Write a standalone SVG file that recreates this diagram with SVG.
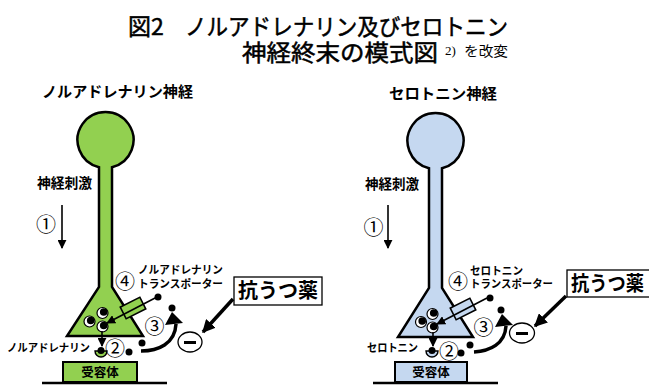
<svg xmlns="http://www.w3.org/2000/svg" width="649" height="389" viewBox="0 0 649 389">
  <defs>
    <style>
      .jp { font-family: "Noto Sans CJK JP", "Liberation Sans", sans-serif; fill: #000; }
      .b { font-weight: bold; }
      .ttl { font-family: "Noto Sans CJK JP", "Liberation Sans", sans-serif; fill: #000; stroke: #000; stroke-width: 0.5; }
      .num { font-family: "Noto Sans CJK JP", "DejaVu Sans", sans-serif; font-size: 20px; fill: #000; text-anchor: middle; dominant-baseline: central; }
      .outline { stroke: #000; stroke-width: 2.5; stroke-linejoin: miter; }
      .nor { fill: #92d050; }
      .ser { fill: #c5d8f0; }
      .thin { stroke: #000; stroke-width: 1.6; fill: none; }
      .thick { stroke: #000; stroke-width: 3.5; fill: none; }
      .mol { fill: #000; }
      .ves { fill: #fff; stroke: #000; stroke-width: 1.2; }
      .drug { fill: #fff; stroke: #000; stroke-width: 1.3; }
    </style>
    <marker id="headS" markerUnits="userSpaceOnUse" markerWidth="9" markerHeight="9" viewBox="0 0 10 10" refX="9" refY="5" orient="auto">
      <path d="M0,0 L10,5 L0,10 Z" fill="#000"/>
    </marker>
    <marker id="headL" markerUnits="userSpaceOnUse" markerWidth="13" markerHeight="13" viewBox="0 0 10 10" refX="9" refY="5" orient="auto">
      <path d="M0,0 L10,5 L0,10 Z" fill="#000"/>
    </marker>
    <!-- vesicle: membrane ring with its stored transmitter -->
    <g id="vesicle">
      <circle r="5.5" class="ves"/>
      <circle cx="1.2" cy="-1" r="3.8" class="mol"/>
    </g>
  </defs>

  <rect width="649" height="389" fill="#fff"/>

  <!-- title -->
  <g id="title">
    <text class="ttl" x="128" y="35" font-size="23">図2</text>
    <text class="ttl" x="185" y="35" font-size="23" textLength="323" lengthAdjust="spacingAndGlyphs">ノルアドレナリン及びセロトニン</text>
    <text class="ttl" x="242" y="61" font-size="23" textLength="196" lengthAdjust="spacingAndGlyphs">神経終末の模式図</text>
    <text x="445" y="55" font-family="Liberation Serif, serif" font-size="13">2)</text>
    <text class="jp" x="464" y="56" font-size="14" textLength="44" lengthAdjust="spacingAndGlyphs">を改変</text>
  </g>

  <!-- ===== noradrenergic neuron ===== -->
  <g id="nor-neuron">
    <text class="jp b" x="42" y="97" font-size="15" textLength="151" lengthAdjust="spacingAndGlyphs">ノルアドレナリン神経</text>
    <path class="nor outline" d="M99,167.2 L99,287 L67,336 L143,336 L112,287 L112,167.2 A28,28 0 1 0 99,167.2 Z"/>
    <use href="#vesicle" x="102.5" y="313"/>
    <use href="#vesicle" x="89.5" y="321.5"/>
    <use href="#vesicle" x="102.5" y="326.5"/>
  </g>

  <g id="nor-transporter">
    <rect x="-11" y="-6.5" width="22" height="13" transform="translate(133,308) rotate(-27)" class="nor" stroke="#000" stroke-width="1.6"/>
    <text class="jp num" x="125" y="280">④</text>
    <text class="jp b" x="138" y="274" font-size="11" textLength="85" lengthAdjust="spacingAndGlyphs">ノルアドレナリン</text>
    <text class="jp b" x="138" y="288" font-size="11" textLength="85" lengthAdjust="spacingAndGlyphs">トランスポーター</text>
  </g>

  <g id="nor-receptor">
    <rect x="63" y="362" width="74" height="20" class="nor" stroke="#000" stroke-width="2"/>
    <text class="jp b" x="100" y="377" font-size="12.5" text-anchor="middle">受容体</text>
    <line x1="42" y1="383" x2="167" y2="383" stroke="#000" stroke-width="2.5"/>
    <path d="M95,351 A6,6 0 0 0 107,351 Z" class="nor" stroke="#000" stroke-width="1.4"/>
    <circle cx="101" cy="350.5" r="3.5" class="mol"/>
  </g>

  <g id="nor-labels">
    <text class="jp b" x="37" y="188" font-size="14" textLength="55" lengthAdjust="spacingAndGlyphs">神経刺激</text>
    <text class="jp num" x="46" y="223">①</text>
    <text class="jp b" x="7" y="352" font-size="11" textLength="83" lengthAdjust="spacingAndGlyphs">ノルアドレナリン</text>
    <text class="jp num" x="115" y="347">②</text>
    <text class="jp num" x="154.5" y="325">③</text>
  </g>

  <g id="nor-molecules">
    <circle cx="158" cy="297" r="3.5" class="mol"/>
    <circle cx="172" cy="308" r="3.5" class="mol"/>
    <circle cx="142" cy="343" r="3.5" class="mol"/>
    <circle cx="129" cy="352" r="3.5" class="mol"/>
  </g>

  <g id="nor-drug">
    <rect x="234" y="277" width="88" height="28" class="drug"/>
    <text class="jp b" x="238" y="298" font-size="20" textLength="80" lengthAdjust="spacingAndGlyphs">抗うつ薬</text>
    <ellipse cx="190" cy="342" rx="12" ry="10" class="drug"/>
    <line x1="184" y1="342.5" x2="196" y2="342.5" stroke="#000" stroke-width="3"/>
  </g>

  <!-- ===== serotonergic neuron ===== -->
  <g id="ser-neuron">
    <text class="jp b" x="389" y="99" font-size="15" textLength="108" lengthAdjust="spacingAndGlyphs">セロトニン神経</text>
    <path class="ser outline" d="M429,168.2 L429,288 L398,337 L473,337 L442,288 L442,168.2 A28,28 0 1 0 429,168.2 Z"/>
    <use href="#vesicle" x="432.5" y="314"/>
    <use href="#vesicle" x="421" y="322"/>
    <use href="#vesicle" x="432.5" y="327.5"/>
  </g>

  <g id="ser-transporter">
    <rect x="-11" y="-6.5" width="22" height="13" transform="translate(463,309) rotate(-27)" class="ser" stroke="#000" stroke-width="1.6"/>
    <text class="jp num" x="458" y="280">④</text>
    <text class="jp b" x="470" y="275" font-size="11" textLength="53" lengthAdjust="spacingAndGlyphs">セロトニン</text>
    <text class="jp b" x="470" y="288" font-size="11" textLength="83" lengthAdjust="spacingAndGlyphs">トランスポーター</text>
  </g>

  <g id="ser-receptor">
    <rect x="395" y="362" width="72" height="20" class="ser" stroke="#000" stroke-width="2"/>
    <text class="jp b" x="431" y="377" font-size="12.5" text-anchor="middle">受容体</text>
    <line x1="373" y1="383" x2="498" y2="383" stroke="#000" stroke-width="2.5"/>
    <path d="M426,351 A6,6 0 0 0 438,351 Z" class="ser" stroke="#000" stroke-width="1.4"/>
    <circle cx="432" cy="350.5" r="3.5" class="mol"/>
  </g>

  <g id="ser-labels">
    <text class="jp b" x="365" y="189" font-size="14" textLength="54" lengthAdjust="spacingAndGlyphs">神経刺激</text>
    <text class="jp num" x="373.5" y="226">①</text>
    <text class="jp b" x="367" y="352" font-size="11" textLength="51" lengthAdjust="spacingAndGlyphs">セロトニン</text>
    <text class="jp num" x="449" y="350">②</text>
    <text class="jp num" x="483.5" y="326">③</text>
  </g>

  <g id="ser-molecules">
    <circle cx="490" cy="298" r="3.5" class="mol"/>
    <circle cx="501" cy="310" r="3.5" class="mol"/>
    <circle cx="470" cy="345" r="3.5" class="mol"/>
    <circle cx="461" cy="353" r="3.5" class="mol"/>
  </g>

  <g id="ser-drug">
    <rect x="567" y="270" width="90" height="27" class="drug"/>
    <text class="jp b" x="571" y="291" font-size="20" textLength="73" lengthAdjust="spacingAndGlyphs">抗うつ薬</text>
    <ellipse cx="522" cy="333" rx="12.5" ry="10" class="drug"/>
    <line x1="516" y1="333.5" x2="528" y2="333.5" stroke="#000" stroke-width="3"/>
  </g>

  <!-- ===== connectors ===== -->
  <g id="connectors">
    <!-- ① impulse -->
    <line x1="62" y1="205" x2="62" y2="248" class="thin" marker-end="url(#headS)"/>
    <line x1="388" y1="205" x2="388" y2="248" class="thin" marker-end="url(#headS)"/>
    <!-- ② release -->
    <line x1="102" y1="331" x2="102" y2="346" class="thin" marker-end="url(#headS)"/>
    <line x1="433" y1="332" x2="433" y2="346" class="thin" marker-end="url(#headS)"/>
    <!-- ④ reuptake through transporter -->
    <line x1="157" y1="297" x2="107" y2="323" class="thin" marker-end="url(#headS)"/>
    <line x1="487" y1="298" x2="437" y2="324" class="thin" marker-end="url(#headS)"/>
    <!-- ③ curved reuptake -->
    <path d="M141,351 C158,351 175,344 176,324" class="thick" stroke-width="4"/>
    <polygon points="172,312 165,325 183,323" fill="#000"/>
    <path d="M474,352 C490,351 505,344 506,326" class="thick" stroke-width="4"/>
    <polygon points="502,314 495,327 513,325" fill="#000"/>
    <!-- drug inhibits -->
    <line x1="233" y1="299" x2="203" y2="332" class="thick" marker-end="url(#headL)"/>
    <line x1="566" y1="296" x2="535" y2="326" class="thick" marker-end="url(#headL)"/>
  </g>
</svg>
